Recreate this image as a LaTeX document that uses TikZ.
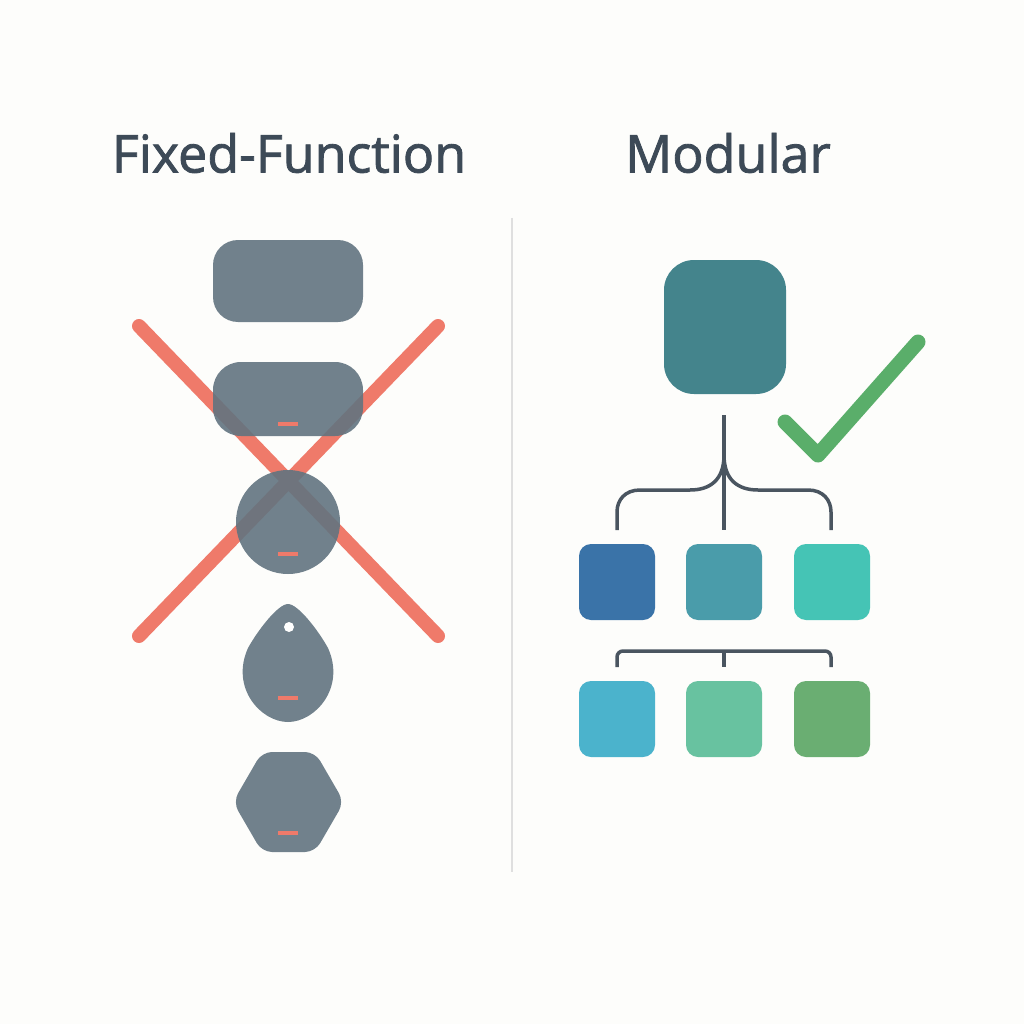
\documentclass[tikz,border=0pt]{standalone}
\usepackage{fontspec}
\setmainfont{Open Sans}[FakeBold=1.6]
\begin{document}
\begin{tikzpicture}[x=1pt,y=-1pt,
  shp/.style={fill=slate,opacity=0.9,draw=none},
  rdash/.style={draw=xred,line width=4.5pt},
  xline/.style={draw=xred,line width=14pt,line cap=round},
  sq/.style={minimum width=76pt,minimum height=76pt,rounded corners=12pt,inner sep=0pt,draw=none},
  title/.style={font=\fontsize{52}{58}\selectfont,text=titlec}]
\definecolor{bg}{HTML}{FDFDFB}
\definecolor{slate}{HTML}{627480}
\definecolor{xred}{HTML}{EF7A6A}
\definecolor{titlec}{HTML}{3D4A57}
\definecolor{treec}{HTML}{4A5560}
\definecolor{chk}{HTML}{5AAE6A}
\fill[bg] (0,0) rectangle (1024,1024);
\useasboundingbox (0,0) rectangle (1024,1024);
\node[title] (t1) at (289,153) {Fixed-Function};
\node[title] (t2) at (728,153) {Modular};
\draw[gray!25,line width=1.2pt] (512,218) -- (512,872);
% X
\draw[xline] (139,326) -- (438,636);
\draw[xline] (438,326) -- (139,636);
% shapes
\fill[shp,rounded corners=25pt] (213,240) rectangle (363,322);
\fill[shp,rounded corners=28pt] (213,362) rectangle (363,436);
\fill[shp] (288,522) circle (52);
\fill[shp] (288,604) .. controls (298,604) and (318,630) .. (328,648) .. controls (346,688) and (315,722) .. (288,722) .. controls (261,722) and (230,688) .. (248,648) .. controls (258,630) and (278,604) .. (288,604) -- cycle;
\fill[white] (289,627) circle (5);
\fill[shp,rounded corners=10pt] (262,752) -- (315,752) -- (344,802) -- (315,852) -- (262,852) -- (233,802) -- cycle;
\draw[rdash] (278,424) -- (298,424);
\draw[rdash] (278,554) -- (298,554);
\draw[rdash] (278,698) -- (298,698);
\draw[rdash] (278,833) -- (298,833);
% right
\definecolor{teal1}{HTML}{44848C}
\fill[teal1,rounded corners=30pt] (664,260) rectangle (786,394);
\draw[chk,line width=15pt,line cap=round,line join=round] (785,422) -- (818,455) -- (918,342);
\draw[treec,line width=3.5pt] (724,415) -- (724,530);
\draw[treec,line width=3.5pt] (724,455) .. controls (724,480) and (710,490) .. (690,490) -- (640,490) .. controls (625,490) and (617,500) .. (617,512) -- (617,530);
\draw[treec,line width=3.5pt] (724,455) .. controls (724,480) and (738,490) .. (758,490) -- (808,490) .. controls (823,490) and (831,500) .. (831,512) -- (831,530);
\definecolor{c1}{HTML}{3A73A8}\definecolor{c2}{HTML}{4A9CAA}\definecolor{c3}{HTML}{45C4B5}
\definecolor{c4}{HTML}{4BB3CC}\definecolor{c5}{HTML}{68C2A0}\definecolor{c6}{HTML}{6AAE72}
\node[sq,fill=c1] (a1) at (617,582) {};
\node[sq,fill=c2] (a2) at (724,582) {};
\node[sq,fill=c3] (a3) at (832,582) {};
\node[sq,fill=c4] (b1) at (617,719) {};
\node[sq,fill=c5] (b2) at (724,719) {};
\node[sq,fill=c6] (b3) at (832,719) {};
\draw[treec,line width=3.5pt,rounded corners=6pt] (617,667) -- (617,651) -- (831,651) -- (831,667);
\draw[treec,line width=3.5pt] (724,651) -- (724,667);
\end{tikzpicture}
\end{document}
